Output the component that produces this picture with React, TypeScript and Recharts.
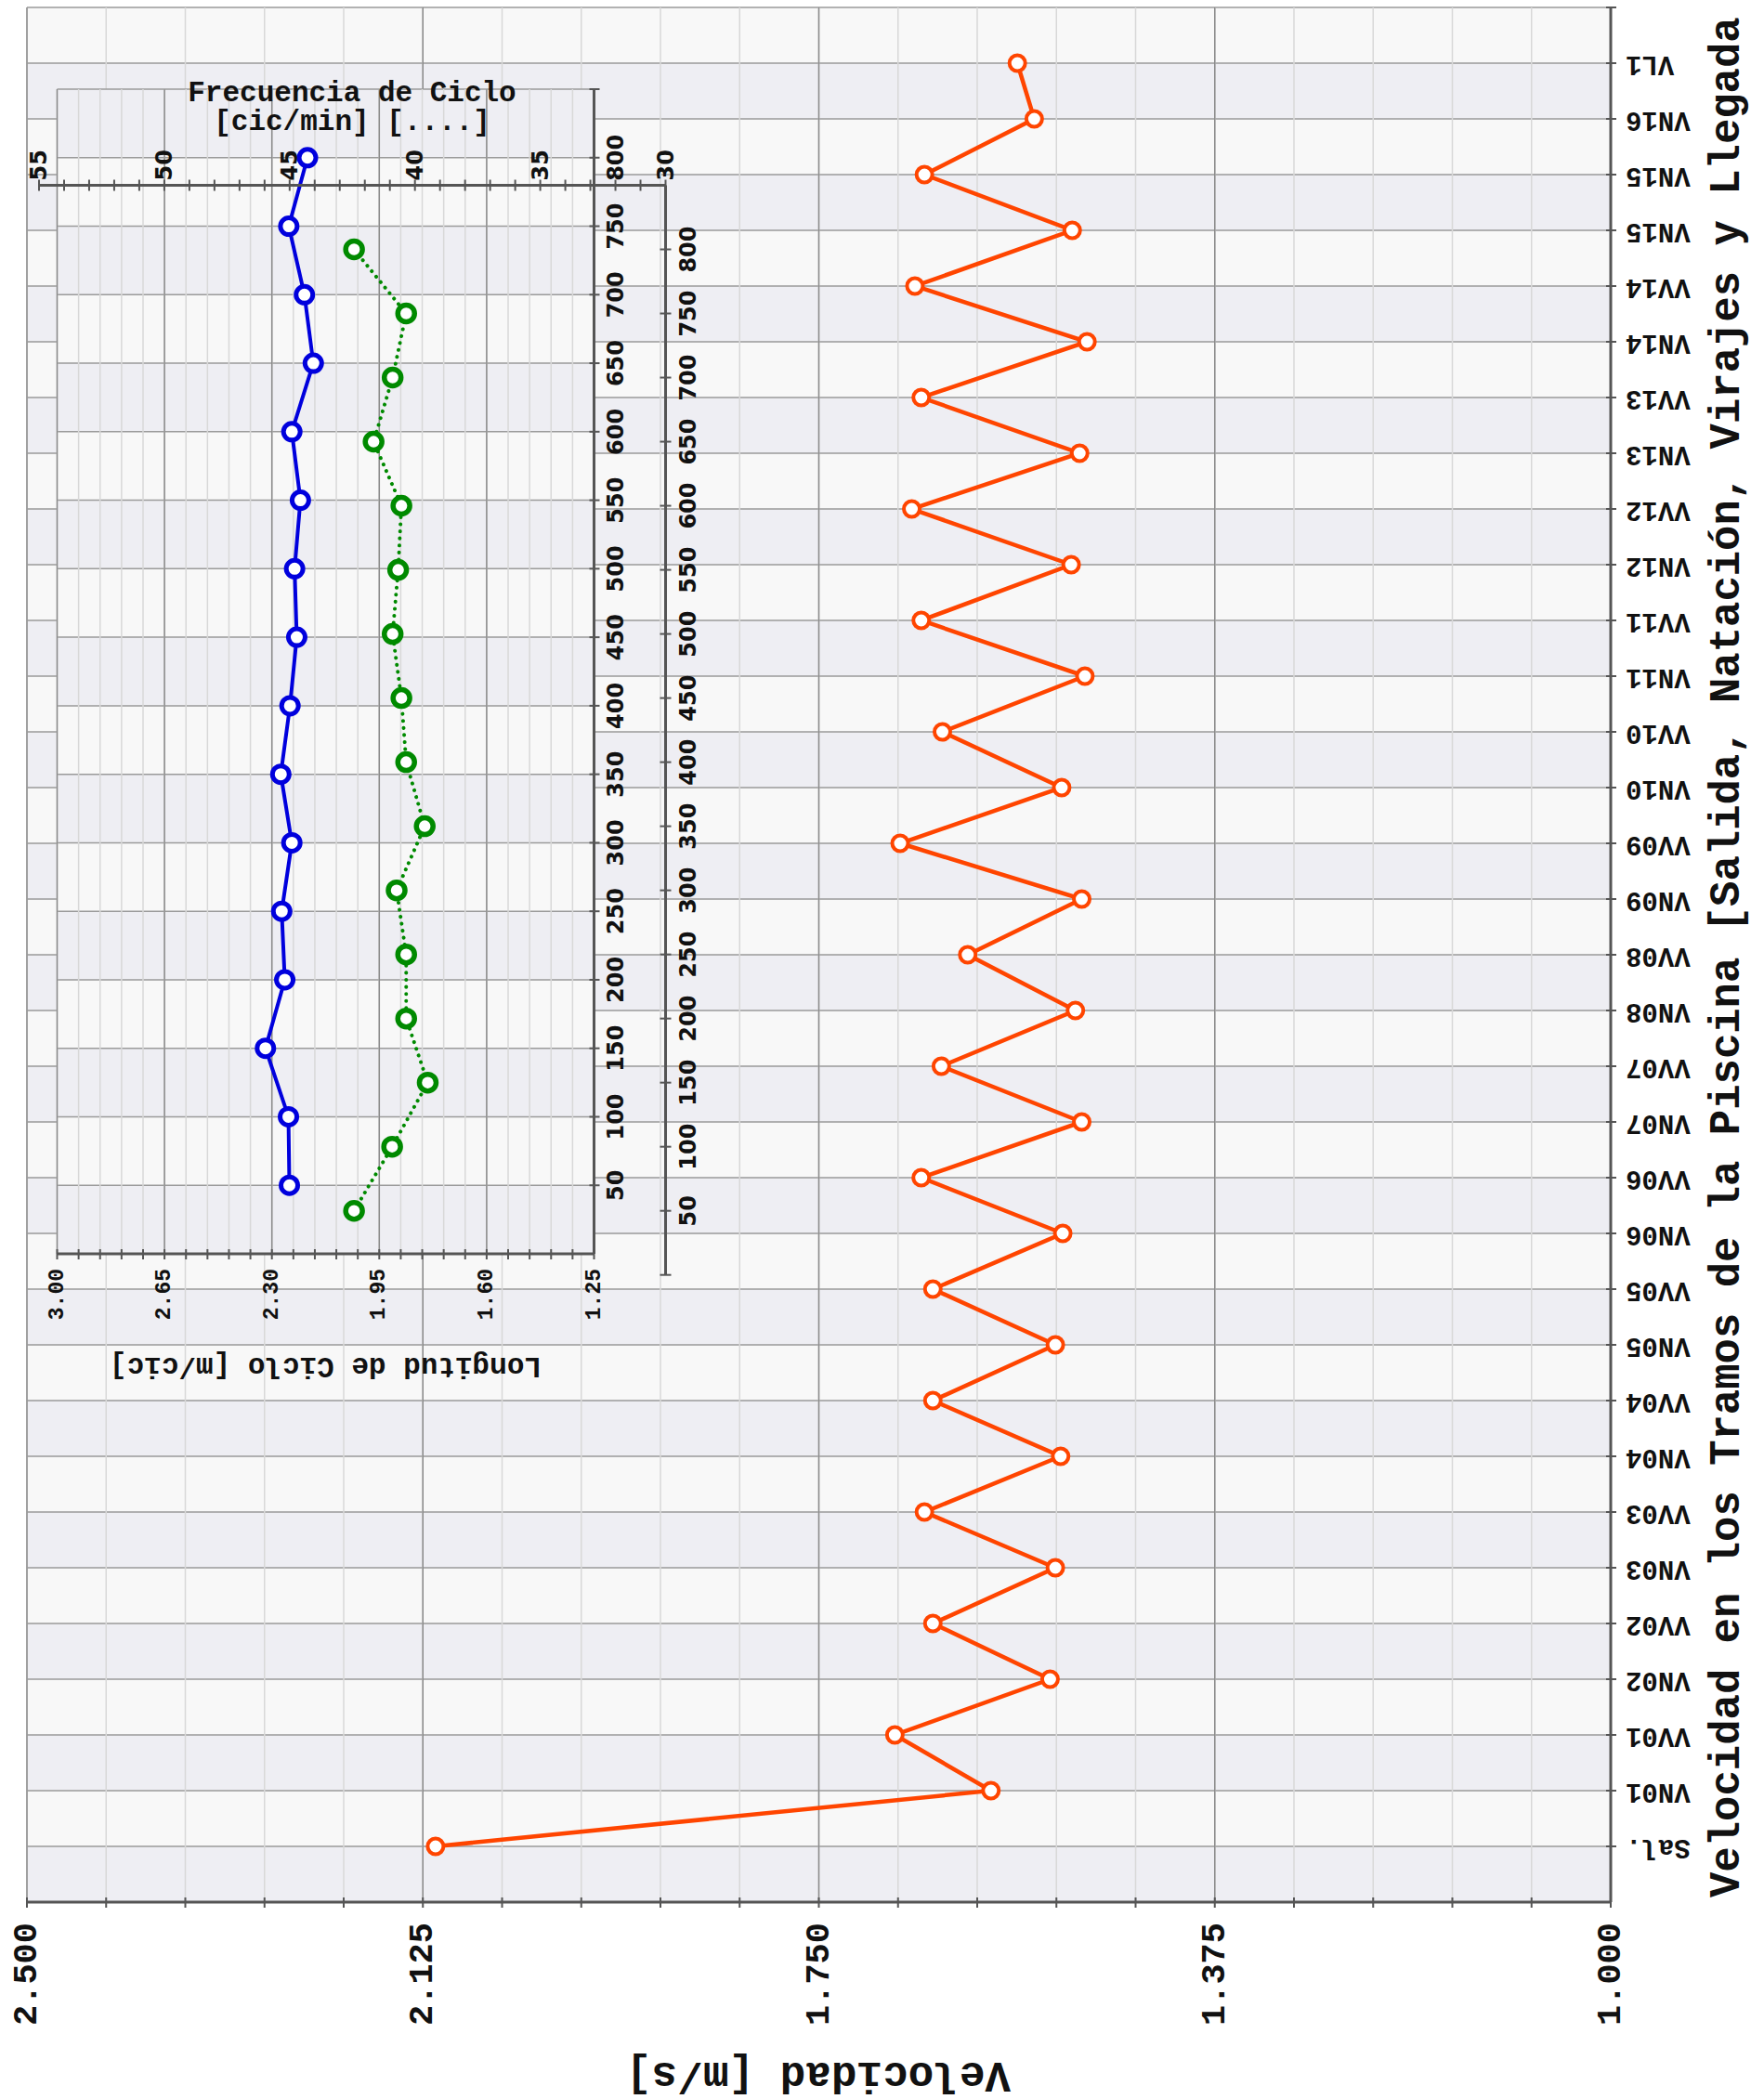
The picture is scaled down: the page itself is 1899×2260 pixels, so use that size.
import React from 'react';
import { LineChart, Line, XAxis, YAxis, CartesianGrid, ReferenceLine } from 'recharts';

// ---------- Main chart data ----------
const tramos = [
  'Sal.', 'VN01', 'VV01', 'VN02', 'VV02', 'VN03', 'VV03', 'VN04', 'VV04', 'VN05', 'VV05',
  'VN06', 'VV06', 'VN07', 'VV07', 'VN08', 'VV08', 'VN09', 'VV09', 'VN10', 'VV10',
  'VN11', 'VV11', 'VN12', 'VV12', 'VN13', 'VV13', 'VN14', 'VV14', 'VN15', 'VN15', 'VN16', 'VL1',
];
const velocidad = [
  2.113, 1.587, 1.678, 1.531, 1.642, 1.526, 1.650, 1.521, 1.642, 1.526, 1.642,
  1.519, 1.653, 1.501, 1.634, 1.507, 1.609, 1.501, 1.673, 1.520, 1.633,
  1.498, 1.653, 1.511, 1.662, 1.503, 1.653, 1.496, 1.659, 1.510, 1.650, 1.546, 1.562,
];
const velocidadTicks = [
  1, 1.075, 1.15, 1.225, 1.3, 1.375, 1.45, 1.525, 1.6, 1.675, 1.75,
  1.825, 1.9, 1.975, 2.05, 2.125, 2.2, 2.275, 2.35, 2.425, 2.5,
];
const velocidadMayores = [1, 1.375, 1.75, 2.125, 2.5];

// ---------- Inset data ----------
const distancias = [50, 100, 150, 200, 250, 300, 350, 400, 450, 500, 550, 600, 650, 700, 750, 800];
const longitudCiclo = [
  2.243, 2.246, 2.321, 2.258, 2.268, 2.235, 2.271, 2.241,
  2.219, 2.226, 2.207, 2.235, 2.165, 2.194, 2.245, 2.184,
];
const frecuenciaCiclo = [
  42.43, 40.91, 39.49, 40.35, 40.35, 40.73, 39.61, 40.35,
  40.54, 40.89, 40.67, 40.54, 41.65, 40.89, 40.35, 42.43,
];
const longitudTicks = [
  1.25, 1.32, 1.39, 1.46, 1.53, 1.6, 1.67, 1.74, 1.81, 1.88, 1.95, 2.02, 2.09,
  2.16, 2.23, 2.3, 2.37, 2.44, 2.51, 2.58, 2.65, 2.72, 2.79, 2.86, 2.93, 3,
];
const longitudMayores = [1.25, 1.6, 1.95, 2.3, 2.65, 3];
const frecuenciaTicks = [
  30, 31, 32, 33, 34, 35, 36, 37, 38, 39, 40, 41, 42, 43, 44, 45, 46, 47, 48, 49, 50, 51, 52, 53, 54, 55,
];
const frecuenciaMayores = [30, 35, 40, 45, 50, 55];

// ---------- Styling ----------
const W = 1899;
const H = 2260;
const MONO = "'Liberation Mono', 'Courier New', monospace";
const SANS = "'DejaVu Sans', Verdana, sans-serif";
const AXIS = '#555555';
const LIGHT = '#f8f8f8';
const DARK = '#eeeef3';
const HLINE = '#9a9a9a';
const MINOR = '#d8d8d8';
const MAJOR = '#8a8a8a';
const RED = '#ff4500';
const BLUE = '#0000dd';
const GREEN = '#008a00';

const velData = tramos.map((t, i) => ({ idx: i, v: velocidad[i] }));
const tramoTicks = [...tramos.map((_, i) => i), tramos.length];
const lenData = distancias.map((d, i) => ({ d, l: longitudCiclo[i] }));
const freqData = distancias.map((d, i) => ({ d, f: frecuenciaCiclo[i] }));

const isIn = (arr: number[], v: number) => arr.some((m) => Math.abs(m - v) < 1e-6);

// ---------- Tick renderers ----------
const VelTick = (p: any) => {
  const { x, y, payload } = p;
  const v = payload.value as number;
  const ly = y + 22;
  return (
    <g>
      <line x1={x} x2={x} y1={y - 5} y2={y + 6} stroke={AXIS} strokeWidth={2} />
      {isIn(velocidadMayores, v) && (
        <text x={x} y={ly} transform={`rotate(-90 ${x} ${ly})`} textAnchor="end" dominantBaseline="central"
          fontFamily={MONO} fontSize={37} fontWeight="bold" fill="#111">{v.toFixed(3)}</text>
      )}
    </g>
  );
};

const TramoTick = (p: any) => {
  const { x, y, payload } = p;
  const i = Math.round(payload.value);
  const lx = x + 16;
  return (
    <g>
      <line x1={x - 5} x2={x + 6} y1={y} y2={y} stroke={AXIS} strokeWidth={2} />
      {i >= 0 && i < tramos.length && (
        <text x={lx} y={y} transform={`rotate(180 ${lx} ${y})`} textAnchor="end" dominantBaseline="central"
          fontFamily={MONO} fontSize={29} fontWeight="bold" fill="#111">{tramos[i]}</text>
      )}
    </g>
  );
};

const LenTick = (p: any) => {
  const { x, y, payload } = p;
  const v = payload.value as number;
  const ly = y + 16;
  return (
    <g>
      <line x1={x} x2={x} y1={y - 5} y2={y + 6} stroke={AXIS} strokeWidth={2} />
      {isIn(longitudMayores, v) && (
        <text x={x} y={ly} transform={`rotate(-90 ${x} ${ly})`} textAnchor="end" dominantBaseline="central"
          fontFamily={MONO} fontSize={23} fontWeight="bold" fill="#111">{v.toFixed(2)}</text>
      )}
    </g>
  );
};

const DistTickA = (p: any) => {
  const { x, y, payload } = p;
  const v = payload.value as number;
  const lx = x + 24;
  return (
    <g>
      <line x1={x - 5} x2={x + 6} y1={y} y2={y} stroke={AXIS} strokeWidth={2} />
      {isIn(distancias, v) && (
        <text x={lx} y={y} transform={`rotate(-90 ${lx} ${y})`} textAnchor="middle" dominantBaseline="central"
          fontFamily={SANS} fontSize={24} fontWeight="bold" fill="#111">{v}</text>
      )}
    </g>
  );
};

const FreqTick = (p: any) => {
  const { x, y, payload } = p;
  const v = payload.value as number;
  const ly = y - 5;
  return (
    <g>
      <line x1={x} x2={x} y1={y - 6} y2={y + 6} stroke={AXIS} strokeWidth={2} />
      {isIn(frecuenciaMayores, v) && (
        <text x={x} y={ly} transform={`rotate(-90 ${x} ${ly})`} textAnchor="start" dominantBaseline="central"
          fontFamily={SANS} fontSize={24} fontWeight="bold" fill="#111">{v}</text>
      )}
    </g>
  );
};

const DistTickB = (p: any) => {
  const { x, y, payload } = p;
  const v = payload.value as number;
  const lx = x + 25;
  return (
    <g>
      <line x1={x - 6} x2={x + 6} y1={y} y2={y} stroke={AXIS} strokeWidth={2} />
      {isIn(distancias, v) && (
        <text x={lx} y={y} transform={`rotate(-90 ${lx} ${y})`} textAnchor="middle" dominantBaseline="central"
          fontFamily={SANS} fontSize={24} fontWeight="bold" fill="#111">{v}</text>
      )}
    </g>
  );
};

const abs = (z: number): React.CSSProperties => ({ position: 'absolute', left: 0, top: 0, width: W, height: H, zIndex: z });

export default function App() {
  return (
    <div style={{ position: 'absolute', left: 0, top: 0, width: W, height: H, background: '#ffffff', overflow: 'hidden' }}>
      {/* Main chart */}
      <div style={abs(1)}>
        <LineChart width={W} height={H} layout="vertical" data={velData}
          margin={{ top: 8, right: W - 1734 - 1, bottom: H - 2048 - 1, left: 29 }}>
          <CartesianGrid vertical={false} horizontalFill={[LIGHT, DARK]} stroke={HLINE} strokeWidth={1.5} />
          <CartesianGrid horizontal={false} stroke={MINOR} strokeWidth={1.5} />
          <XAxis type="number" domain={[1, 2.5]} reversed ticks={velocidadTicks} interval={0}
            height={1} tickSize={0} tickMargin={0} tickLine={false} axisLine={{ stroke: AXIS, strokeWidth: 3 }} tick={VelTick} />
          <YAxis type="number" dataKey="idx" domain={[-1, 33]} reversed orientation="right" ticks={tramoTicks}
            interval={0} width={1} tickSize={0} tickMargin={0} tickLine={false} axisLine={{ stroke: AXIS, strokeWidth: 3 }} tick={TramoTick} />
          {[2.5, 2.125, 1.75, 1.375].map((m) => (
            <ReferenceLine key={m} x={m} stroke={MAJOR} strokeWidth={1.5} />
          ))}
          <Line dataKey="v" stroke={RED} strokeWidth={4.5} isAnimationActive={false}
            dot={{ r: 8.5, fill: '#ffffff', stroke: RED, strokeWidth: 4 }} />
        </LineChart>
      </div>

      {/* Inset: Longitud de ciclo (blue) */}
      <div style={abs(2)}>
        <LineChart width={W} height={H} layout="vertical" data={lenData}
          margin={{ top: 96, right: W - 639.5 - 1, bottom: H - 1350 - 1, left: 61.5 }}>
          <CartesianGrid vertical={false} horizontalFill={[DARK, LIGHT]} stroke={HLINE} strokeWidth={1.5} />
          <CartesianGrid horizontal={false} stroke={MINOR} strokeWidth={1.5} />
          <XAxis type="number" domain={[1.25, 3]} reversed ticks={longitudTicks} interval={0}
            height={1} tickSize={0} tickMargin={0} tickLine={false} axisLine={{ stroke: AXIS, strokeWidth: 3 }} tick={LenTick} />
          <YAxis type="number" dataKey="d" domain={[0, 850]} reversed orientation="right" ticks={[...distancias, 850]}
            interval={0} width={1} tickSize={0} tickMargin={0} tickLine={false} axisLine={{ stroke: AXIS, strokeWidth: 3 }} tick={DistTickA} />
          {[3, 2.65, 2.3, 1.95, 1.6].map((m) => (
            <ReferenceLine key={m} x={m} stroke={MAJOR} strokeWidth={1.5} />
          ))}
          <Line dataKey="l" stroke={BLUE} strokeWidth={4} isAnimationActive={false}
            dot={{ r: 9, fill: '#ffffff', stroke: BLUE, strokeWidth: 5 }} />
        </LineChart>
      </div>

      {/* Inset: Frecuencia de ciclo (green, dotted) */}
      <div style={abs(3)}>
        <LineChart width={W} height={H} layout="vertical" data={freqData}
          margin={{ top: 199.5 - 1, right: W - 716.5 - 1, bottom: H - 1372.7, left: 42 }}>
          <XAxis type="number" orientation="top" domain={[30, 55]} reversed ticks={frecuenciaTicks} interval={0}
            height={1} tickSize={0} tickMargin={0} tickLine={false} axisLine={{ stroke: AXIS, strokeWidth: 3 }} tick={FreqTick} />
          <YAxis type="number" dataKey="d" domain={[0, 850]} reversed orientation="right" ticks={[0, ...distancias]}
            interval={0} width={1} tickSize={0} tickMargin={0} tickLine={false} axisLine={{ stroke: AXIS, strokeWidth: 3 }} tick={DistTickB} />
          <Line dataKey="f" stroke={GREEN} strokeWidth={4} strokeDasharray="0.1 7.5" strokeLinecap="round"
            isAnimationActive={false}
            dot={{ r: 9, fill: '#ffffff', stroke: GREEN, strokeWidth: 5.5, strokeDasharray: 'none' }} />
        </LineChart>
      </div>

      {/* Titles */}
      <svg width={W} height={H} style={{ ...abs(4), pointerEvents: 'none' }}>
        <text x={1860} y={2043} transform="rotate(-90 1860 2043)" textAnchor="start" dominantBaseline="central"
          fontFamily={MONO} fontSize={45.6} fontWeight="bold" fill="#111">
          Velocidad en los Tramos de la Piscina [Salida, Natación, Virajes y Llegada
        </text>
        <text x={881} y={2233} transform="rotate(180 881 2233)" textAnchor="middle" dominantBaseline="central"
          fontFamily={MONO} fontSize={46} fontWeight="bold" fill="#111">Velocidad [m/s]</text>
        <text x={379} y={100} textAnchor="middle" dominantBaseline="central"
          fontFamily={MONO} fontSize={31} fontWeight="bold" fill="#111">Frecuencia de Ciclo</text>
        <text x={379} y={131} textAnchor="middle" dominantBaseline="central"
          fontFamily={MONO} fontSize={31} fontWeight="bold" fill="#111">[cic/min] [....]</text>
        <text x={350.5} y={1470} transform="rotate(180 350.5 1470)" textAnchor="middle" dominantBaseline="central"
          fontFamily={MONO} fontSize={31} fontWeight="bold" fill="#111">Longitud de Ciclo [m/cic]</text>
      </svg>
    </div>
  );
}
